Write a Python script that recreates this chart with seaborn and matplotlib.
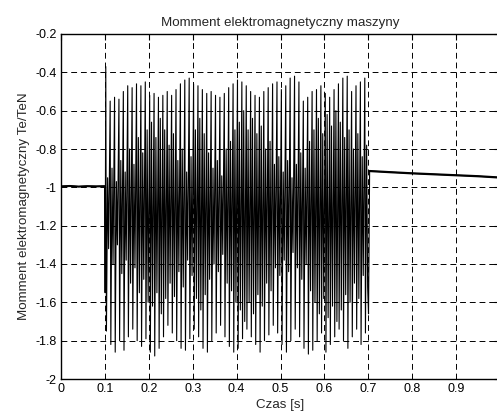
import numpy as np
import pandas as pd
import matplotlib
matplotlib.use("Agg")
import matplotlib.pyplot as plt
import seaborn as sns

# ===============================
# DATA
# ===============================
# steady state before the disturbance
t_pre = [0.0, 0.02, 0.04, 0.06, 0.08, 0.0995, 0.1005]
v_pre = [-0.995, -0.993, -0.996, -0.994, -0.995, -0.994, -1.55]

# oscillation 0.1 .. 0.7 s, one entry per ~10 ms cycle
peak = [-0.37, -0.55, -0.53, -0.54, -0.50, -0.47, -0.48, -0.46, -0.47, -0.45,
        -0.52, -0.51, -0.53, -0.52, -0.50, -0.52, -0.49, -0.46, -0.44, -0.43,
        -0.46, -0.47, -0.49, -0.51, -0.50, -0.52, -0.53, -0.51, -0.48, -0.46,
        -0.44, -0.45, -0.47, -0.50, -0.52, -0.53, -0.50, -0.48, -0.46, -0.45,
        -0.49, -0.47, -0.43, -0.42, -0.45, -0.55, -0.53, -0.50, -0.49, -0.47,
        -0.51, -0.53, -0.49, -0.46, -0.43, -0.42, -0.50, -0.47, -0.45, -0.43]
trough = [-1.75, -1.82, -1.86, -1.80, -1.85, -1.78, -1.74, -1.80, -1.83, -1.79,
          -1.86, -1.88, -1.84, -1.78, -1.72, -1.76, -1.80, -1.84, -1.85, -1.79,
          -1.74, -1.78, -1.84, -1.86, -1.80, -1.76, -1.72, -1.78, -1.83, -1.86,
          -1.84, -1.79, -1.74, -1.78, -1.82, -1.86, -1.80, -1.77, -1.72, -1.76,
          -1.82, -1.86, -1.80, -1.74, -1.78, -1.84, -1.87, -1.85, -1.80, -1.76,
          -1.86, -1.82, -1.78, -1.74, -1.80, -1.84, -1.78, -1.74, -1.82, -1.76]
mid_hi = [-0.95, -0.90, -0.97, -0.86, -0.92, -0.80, -0.88, -0.74, -0.82, -0.70,
          -0.66, -0.74, -0.64, -0.70, -0.78, -0.72, -0.86, -0.80, -0.92, -0.84,
          -0.70, -0.64, -0.72, -0.82, -0.90, -0.86, -0.94, -0.80, -0.76, -0.70,
          -0.66, -0.60, -0.70, -0.64, -0.72, -0.68, -0.80, -0.76, -0.88, -0.84,
          -0.92, -0.86, -0.95, -0.88, -0.82, -0.90, -0.76, -0.70, -0.64, -0.72,
          -0.62, -0.68, -0.60, -0.66, -0.74, -0.70, -0.80, -0.72, -0.84, -0.78]
mid_lo = [-1.32, -1.40, -1.30, -1.45, -1.38, -1.50, -1.42, -1.55, -1.48, -1.60,
          -1.62, -1.55, -1.66, -1.58, -1.50, -1.57, -1.44, -1.52, -1.38, -1.46,
          -1.58, -1.64, -1.56, -1.48, -1.40, -1.44, -1.35, -1.50, -1.54, -1.60,
          -1.64, -1.70, -1.60, -1.66, -1.56, -1.62, -1.50, -1.54, -1.42, -1.46,
          -1.38, -1.44, -1.34, -1.42, -1.48, -1.40, -1.54, -1.60, -1.66, -1.58,
          -1.68, -1.62, -1.70, -1.64, -1.56, -1.60, -1.50, -1.58, -1.46, -1.52]

# after the disturbance
t_post = [0.7005, 0.703, 0.75, 0.8, 0.85, 0.9, 0.95, 1.0]
v_post = [-1.66, -0.915, -0.921, -0.927, -0.932, -0.937, -0.942, -0.949]

# ===============================
# BUILD SERIES
# ===============================
n = len(peak)
t0 = 0.1 + 0.01 * np.arange(n)
offs = [0.002, 0.0035, 0.0062, 0.0085]
t_osc = (t0[:, None] + np.array(offs)[None, :]).ravel()
v_osc = np.column_stack([peak, trough, mid_hi, mid_lo]).ravel()

t_all = np.concatenate([t_pre, t_osc, t_post])
v_all = np.concatenate([v_pre, v_osc, v_post])
df = pd.DataFrame({"t": t_all, "Te": v_all})

# ===============================
# PLOT
# ===============================
sns.set_style("white")
plt.rcParams["font.family"] = ["Liberation Sans", "DejaVu Sans"]
plt.rcParams["font.size"] = 9

fig = plt.figure(figsize=(4.97, 4.12), dpi=100)
ax = fig.add_axes([61 / 497, 33 / 412, 439 / 497, 345 / 412])

sns.lineplot(data=df, x="t", y="Te", estimator=None, sort=False,
             color="black", linewidth=0.8, ax=ax)
sns.lineplot(x=t_pre[:-1], y=v_pre[:-1], estimator=None, sort=False,
             color="black", linewidth=1.5, ax=ax)
sns.lineplot(x=t_post[1:], y=v_post[1:], estimator=None, sort=False,
             color="black", linewidth=1.6, ax=ax)

ax.set_xlim(0, 1)
ax.set_ylim(-2, -0.2)
ax.set_xticks(np.round(np.arange(0, 1.01, 0.1), 1))
ax.set_xticklabels(["0", "0.1", "0.2", "0.3", "0.4", "0.5", "0.6", "0.7", "0.8", "0.9", ""])
ax.set_yticks(np.round(np.arange(-2, -0.19, 0.2), 1))
ax.set_yticklabels(["-2", "-1.8", "-1.6", "-1.4", "-1.2", "-1", "-0.8", "-0.6", "-0.4", "-0.2"])
ax.grid(True, color="black", linestyle=(0, (6, 4)), linewidth=0.7)
ax.tick_params(direction="in", length=4, width=0.8, top=True, right=True,
               labelsize=9, colors="black", pad=3)
for s in ax.spines.values():
    s.set_color("black")
    s.set_linewidth(1.0)

ax.set_title("Momment elektromagnetyczny maszyny", fontsize=9.6, pad=6)
ax.set_xlabel("Czas [s]", fontsize=9.6, labelpad=3)
ax.set_ylabel("Momment elektromagnetyczny Te/TeN", fontsize=9.6, labelpad=4)

fig.savefig("out.png", dpi=100)
